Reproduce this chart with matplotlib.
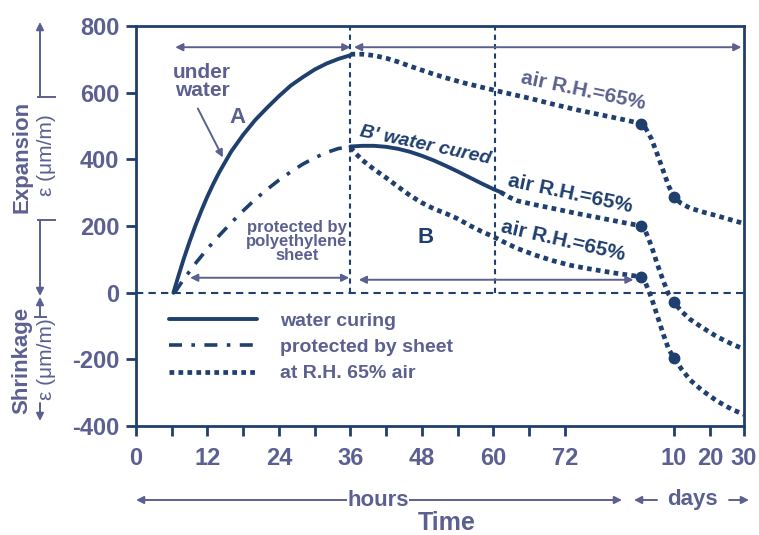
import numpy as np
import matplotlib
matplotlib.use('Agg')
import matplotlib.pyplot as plt

plt.rcParams['font.family'] = ['Liberation Sans Narrow', 'Liberation Sans', 'DejaVu Sans']
plt.rcParams['font.weight'] = 'bold'
plt.rcParams['axes.unicode_minus'] = False

NAVY = '#1f3f6f'
GREY = '#5b6090'

# x positions: 0-72 = hours, then day scale squeezed to the right
hour_ticks = [0, 12, 24, 36, 48, 60, 72]
minor_ticks = [6, 18, 30, 42, 54, 66]
day_tick_pos = [90.3, 96.3, 102]
day_labels = ['10', '20', '30']
y_ticks = [-400, -200, 0, 200, 400, 600, 800]

# A: under water (solid)
t_A = [6.3, 7, 8, 9, 10, 11, 12, 13, 14, 16, 18, 20, 22, 24, 26, 28, 30, 32, 34, 36]
e_A = [0, 42, 100, 153, 202, 247, 289, 327, 362, 424, 474, 518, 555, 590, 622, 647, 670, 688, 702, 713]

# protected by polyethylene sheet (dash-dot)
t_S = [6.5, 8, 10, 12, 14, 16, 18, 20, 22, 24, 26, 28, 30, 32, 34, 36]
e_S = [0, 40, 88, 132, 172, 210, 246, 280, 310, 338, 363, 386, 405, 421, 433, 438]

# B' water cured (solid)
t_Bw = [36, 38, 40, 42, 44, 46, 48, 50, 52, 54, 56, 58, 60, 61.2]
e_Bw = [439, 441, 441, 438, 432, 423, 411, 397, 381, 364, 346, 328, 311, 302]

# A then air R.H. 65%
t_Aair = [36, 38, 40, 42, 44, 46, 48, 50, 52, 55, 58, 62, 66, 70, 74, 78, 82, 84.7,
          85.5, 86.5, 87.5, 88.5, 89.4, 90.3, 91.5, 93, 95, 97.5, 100, 102]
e_Aair = [716, 716, 712, 704, 693, 680, 668, 656, 645, 630, 617, 600, 584, 566, 549, 534, 519, 508,
          495, 462, 415, 365, 320, 287, 268, 254, 243, 231, 218, 208]

# B' then air R.H. 65%
t_Bwair = [61.2, 62.5, 64, 67, 70, 74, 78, 82, 84.7,
           85.5, 86.5, 87.5, 88.5, 89.4, 90.3, 91.5, 93, 95, 97.5, 100, 102]
e_Bwair = [302, 288, 276, 264, 253, 238, 224, 210, 201,
           185, 140, 85, 35, -5, -29, -55, -80, -104, -132, -154, -169]

# B then air R.H. 65%
t_Bair = [36, 37, 38, 40, 42, 44, 46, 48, 50, 52, 54, 56, 58, 60, 62, 64, 67, 70, 73, 76, 80, 84.7,
          85.5, 86.5, 87.5, 88.5, 89.4, 90.3, 91.5, 93, 95, 97.5, 100, 102]
e_Bair = [436, 416, 398, 370, 345, 318, 292, 270, 252, 238, 222, 202, 184, 168, 150, 133, 113, 96, 82, 72, 60, 48,
          30, -15, -70, -125, -170, -196, -228, -262, -293, -325, -350, -365]

dot_pos = [84.7, 90.3]

fig = plt.figure(figsize=(7.59, 5.35), dpi=100)
ax = fig.add_axes([0.179, 0.2037, 0.801, 0.7473])

solid = dict(color=NAVY, lw=2.8, solid_capstyle='round', solid_joinstyle='round')
dashdot = dict(color=NAVY, lw=2.6, linestyle=(0, (3.6, 2.6, 1.0, 2.6)), dash_capstyle='butt')
dotted = dict(color=NAVY, lw=3.4, linestyle=(0, (1.0, 0.9)), dash_capstyle='butt')

ax.plot(t_A, e_A, label='water curing', **solid)
ax.plot(t_Bw, e_Bw, **solid)
ax.plot(t_S, e_S, label='protected by sheet', **dashdot)
ax.plot(t_Aair, e_Aair, label='at R.H. 65% air', **dotted)
ax.plot(t_Bwair, e_Bwair, **dotted)
ax.plot(t_Bair, e_Bair, **dotted)

for t, e in [(t_Aair, e_Aair), (t_Bwair, e_Bwair), (t_Bair, e_Bair)]:
    idx = [t.index(p) for p in dot_pos]
    ax.plot([t[i] for i in idx], [e[i] for i in idx], 'o', color=NAVY, ms=7.5, zorder=5)

# reference lines
ax.axhline(0, color=NAVY, lw=1.5, linestyle=(0, (3.5, 2.5)), zorder=1)
ax.vlines([36, 60.3], 0, 800, color=NAVY, lw=1.5, linestyle=(0, (2.5, 2)), zorder=1)

# period arrows inside the plot
arr = dict(arrowstyle='<|-|>', color=GREY, lw=1.4, mutation_scale=11, shrinkA=0, shrinkB=0)
ax.annotate('', xy=(6.6, 737), xytext=(36, 737), arrowprops=arr)
ax.annotate('', xy=(36.6, 737), xytext=(101.6, 737), arrowprops=arr)
ax.annotate('', xy=(9.1, 45), xytext=(35.8, 45), arrowprops=arr)
ax.annotate('', xy=(37.4, 39), xytext=(83.5, 39), arrowprops=arr)

# annotations
ax.text(11.1, 634, 'under\nwater', color=GREY, fontsize=15, ha='center', va='center', linespacing=0.9)
ax.text(17.0, 526, 'A', color=GREY, fontsize=16, ha='center', va='center')
ax.annotate('', xy=(14.6, 406), xytext=(10.4, 553),
            arrowprops=dict(arrowstyle='-|>', color=GREY, lw=1.4, mutation_scale=11, shrinkA=0, shrinkB=0))
ax.text(27.0, 153, 'protected by\npolyethylene\nsheet', color=GREY, fontsize=12, ha='center', va='center',
        linespacing=0.9)
ax.text(48.6, 442, "B' water cured", color=NAVY, fontsize=14, ha='center', va='center', rotation=-12, style='italic')
ax.text(48.6, 165, 'B', color=NAVY, fontsize=16, ha='center', va='center')
ax.text(75.1, 607, 'air R.H.=65%', color=GREY, fontsize=15, ha='center', va='center', rotation=-12)
ax.text(72.9, 298, 'air R.H.=65%', color=NAVY, fontsize=15, ha='center', va='center', rotation=-12)
ax.text(71.6, 156, 'air R.H.=65%', color=NAVY, fontsize=15, ha='center', va='center', rotation=-13)

leg = ax.legend(loc='upper left', bbox_to_anchor=(0.055, 0.285), frameon=False, fontsize=14,
                handlelength=4.5, handletextpad=1.2, labelspacing=0.45, borderpad=0, borderaxespad=0)
for txt in leg.get_texts():
    txt.set_color(GREY)

# axes
ax.set_xlim(0, 102)
ax.set_ylim(-400, 800)
ax.set_xticks(hour_ticks + day_tick_pos)
ax.set_xticklabels([str(h) for h in hour_ticks] + day_labels)
ax.set_xticks(minor_ticks, minor=True)
ax.set_yticks(y_ticks)
for s in ax.spines.values():
    s.set_color(NAVY)
    s.set_linewidth(2)
ax.tick_params(which='both', direction='out', length=7, width=2, color=NAVY,
               labelcolor=GREY, labelsize=17)
ax.tick_params(axis='x', pad=8)
ax.tick_params(axis='y', pad=5)

# outer labels (figure pixels)
FP = 'figure pixels'
head = dict(arrowstyle='-|>', color=GREY, lw=1.4, mutation_scale=11, shrinkA=0, shrinkB=0)
ax.annotate('', xy=(136, 35), xycoords=FP, xytext=(622, 35), textcoords=FP,
            arrowprops=dict(arrowstyle='<|-|>', color=GREY, lw=1.4, mutation_scale=11, shrinkA=0, shrinkB=0),
            zorder=1)
ax.annotate('hours', xy=(378, 35), xycoords=FP, ha='center', va='center', fontsize=16, color=GREY,
            bbox=dict(fc='white', ec='none', pad=0.5), zorder=3)
ax.annotate('', xy=(634, 35), xycoords=FP, xytext=(657, 35), textcoords=FP, arrowprops=head)
ax.annotate('', xy=(749, 35), xycoords=FP, xytext=(729, 35), textcoords=FP, arrowprops=head)
ax.annotate('days', xy=(692, 35), xycoords=FP, ha='center', va='center', fontsize=16, color=GREY)
ax.annotate('Time', xy=(447, 12), xycoords=FP, ha='center', va='center', fontsize=18, color=GREY)

ax.annotate('Expansion', xy=(22, 378), xycoords=FP, ha='center', va='center', rotation=90,
            fontsize=16, color=GREY)
ax.annotate('ε (μm/m)', xy=(47, 380), xycoords=FP, ha='center', va='center', rotation=90,
            fontsize=15, color=GREY, fontweight='normal')
ax.annotate('Shrinkage', xy=(22, 175), xycoords=FP, ha='center', va='center', rotation=90,
            fontsize=16, color=GREY)
ax.annotate('ε (μm/m)', xy=(47, 176), xycoords=FP, ha='center', va='center', rotation=90,
            fontsize=15, color=GREY, fontweight='normal')

ax.annotate('', xy=(40, 513), xycoords=FP, xytext=(40, 438), textcoords=FP, arrowprops=head)
ax.annotate('', xy=(40, 239), xycoords=FP, xytext=(40, 315), textcoords=FP, arrowprops=head)
ax.annotate('', xy=(40, 238), xycoords=FP, xytext=(40, 218), textcoords=FP, arrowprops=head)
ax.annotate('', xy=(40, 114), xycoords=FP, xytext=(40, 132), textcoords=FP, arrowprops=head)
for yb in [438, 315]:
    fig.lines.append(plt.Line2D([38, 55], [yb, yb], transform=None, color=GREY, lw=1.4))
fig.lines.append(plt.Line2D([35, 46], [218, 218], transform=None, color=GREY, lw=1.4))

fig.savefig('out.png', dpi=100, facecolor='white')
